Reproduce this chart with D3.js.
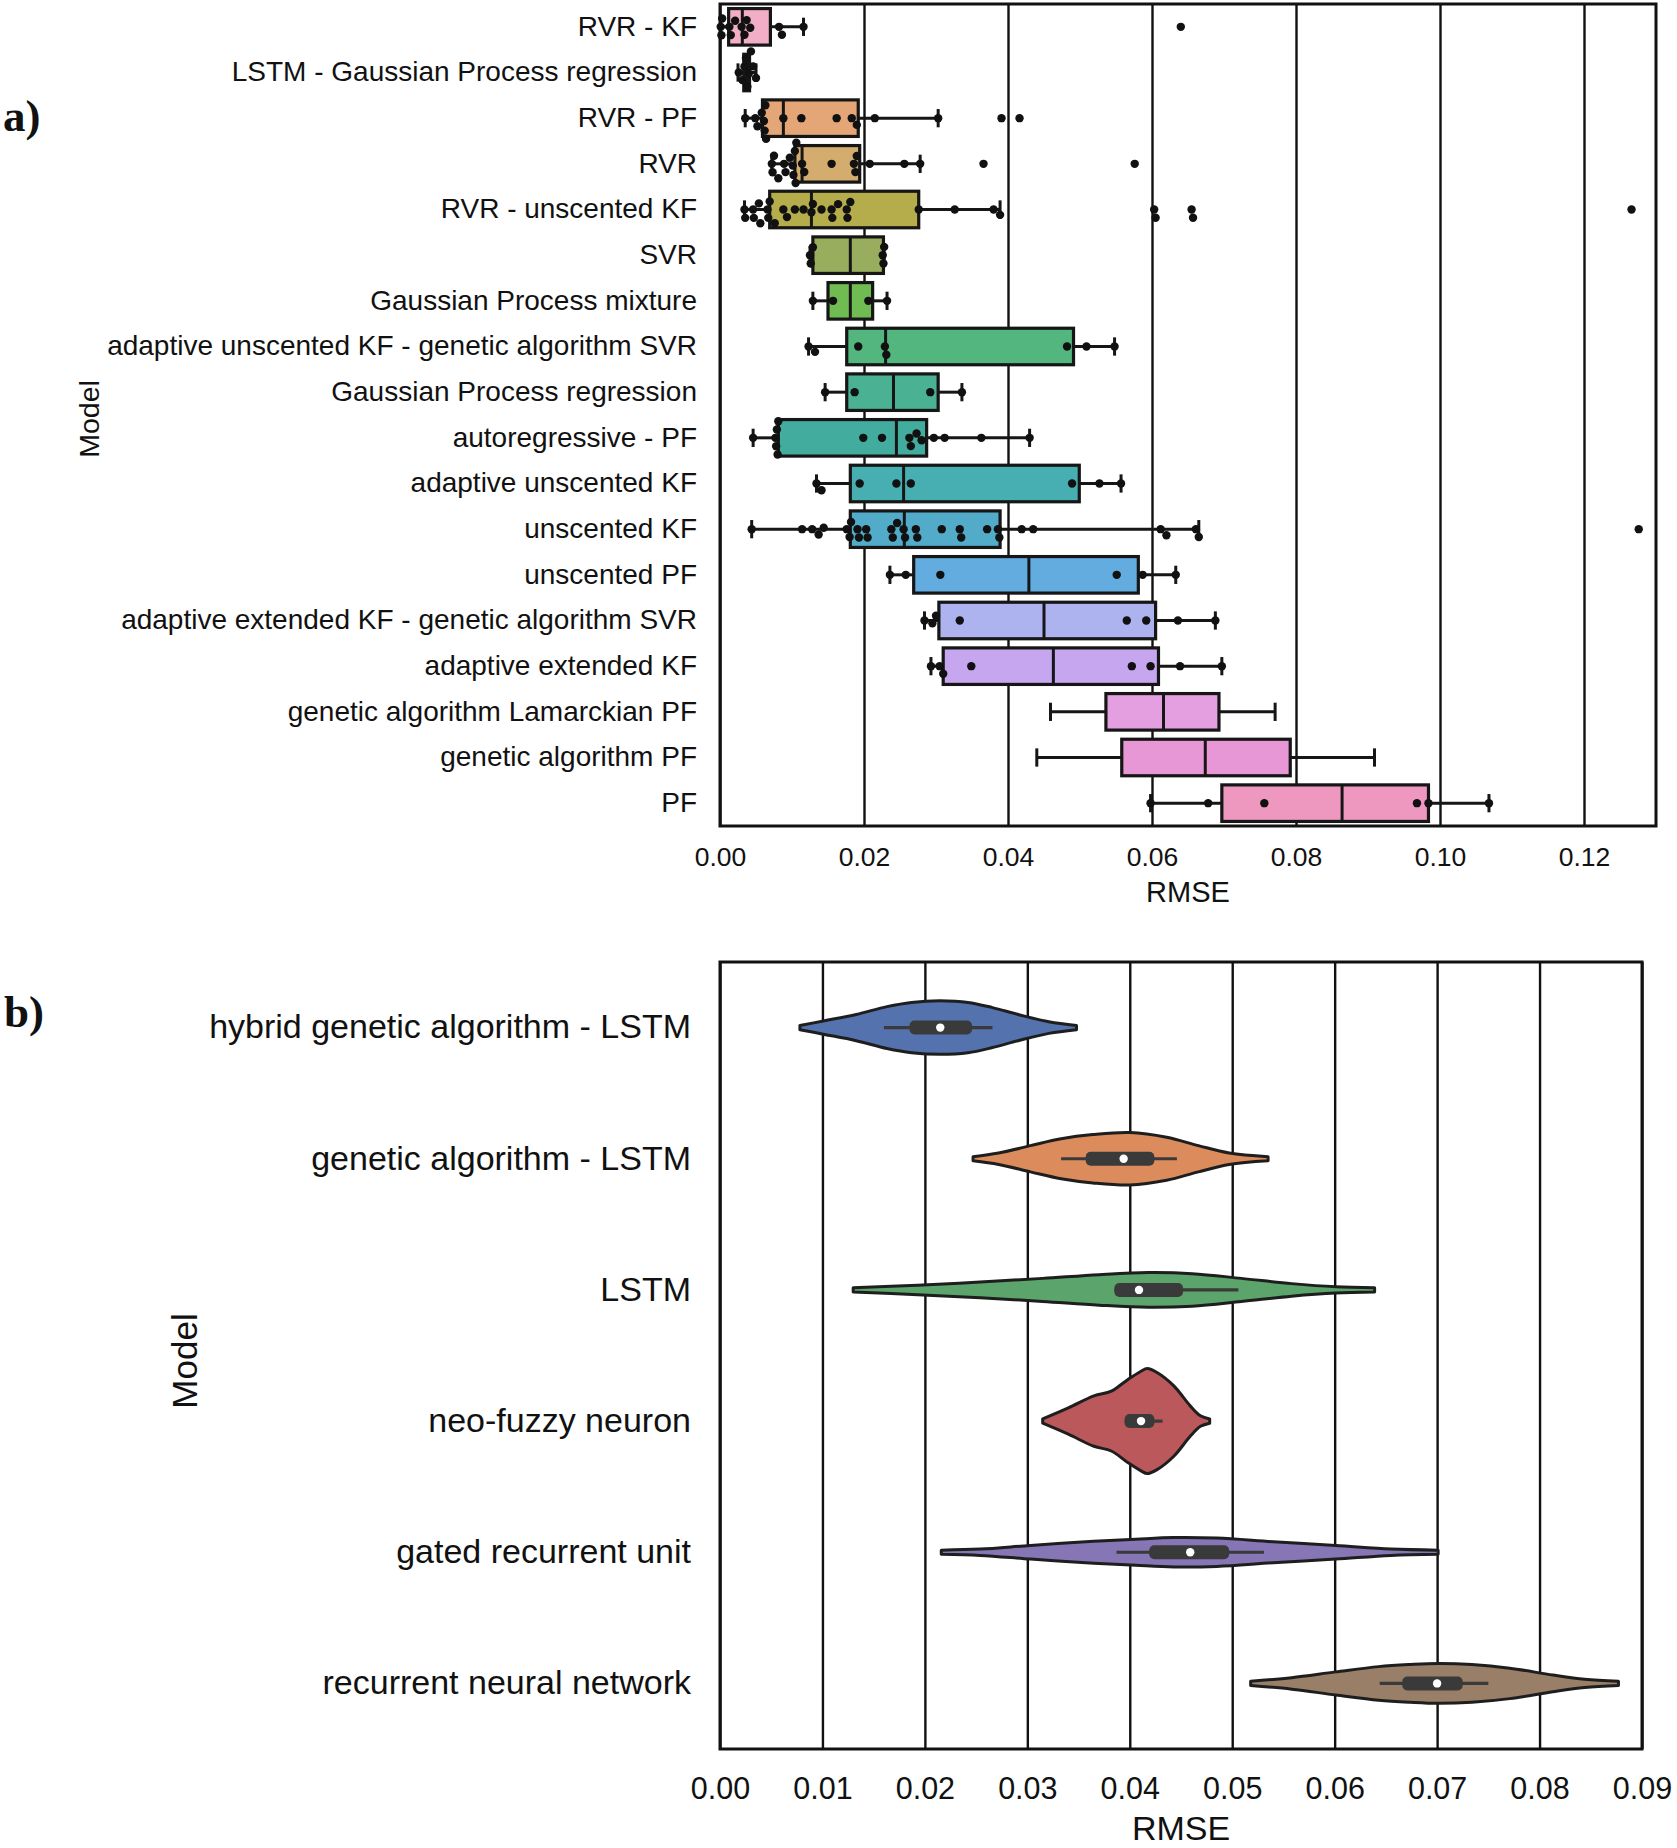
<!DOCTYPE html>
<html lang="en">
<head>
  <meta charset="UTF-8">
  <title>RMSE by model</title>
  <script src="https://d3js.org/d3.v7.min.js"></script>
  <style>
    body { margin: 0; background: #fff; }
    svg text { font-family: "Liberation Sans", Arial, sans-serif; fill: #111; }
    .panel-tag { font-family: "Liberation Serif", "Times New Roman", serif !important; font-weight: bold; }
  </style>
</head>
<body>
  <svg id="chart" width="1677" height="1848"></svg>

  <script>
    // ---- panel a: box + swarm ----
    const modelsA = [
      "RVR - KF", "LSTM - Gaussian Process regression", "RVR - PF", "RVR",
      "RVR - unscented KF", "SVR", "Gaussian Process mixture",
      "adaptive unscented KF - genetic algorithm SVR", "Gaussian Process regression",
      "autoregressive - PF", "adaptive unscented KF", "unscented KF", "unscented PF",
      "adaptive extended KF - genetic algorithm SVR", "adaptive extended KF",
      "genetic algorithm Lamarckian PF", "genetic algorithm PF", "PF"
    ];
    const whiskLoA = [0.0001, 0.0025, 0.0035, 0.0072, 0.0034, 0.0125, 0.0129, 0.0123, 0.0146, 0.0046, 0.0134, 0.0044, 0.0236, 0.0284, 0.0293, 0.0459, 0.0440, 0.0598];
    const q1A      = [0.0012, 0.0033, 0.0059, 0.0104, 0.0069, 0.0129, 0.0150, 0.0176, 0.0176, 0.0081, 0.0181, 0.0181, 0.0269, 0.0304, 0.0310, 0.0536, 0.0558, 0.0697];
    const medianA  = [0.0031, 0.0037, 0.0088, 0.0114, 0.0127, 0.0181, 0.0181, 0.0230, 0.0241, 0.0245, 0.0255, 0.0256, 0.0429, 0.0450, 0.0463, 0.0616, 0.0674, 0.0864];
    const q3A      = [0.0070, 0.0041, 0.0192, 0.0194, 0.0276, 0.0227, 0.0212, 0.0491, 0.0303, 0.0287, 0.0499, 0.0389, 0.0581, 0.0605, 0.0609, 0.0693, 0.0792, 0.0984];
    const whiskHiA = [0.0116, 0.0050, 0.0303, 0.0278, 0.0389, 0.0228, 0.0232, 0.0548, 0.0336, 0.0430, 0.0557, 0.0665, 0.0633, 0.0688, 0.0697, 0.0771, 0.0909, 0.1068];
    const pointsA = [
      [0.0001, 0.0002, 0.0003, 0.0013, 0.0015, 0.0021, 0.0030, 0.0034, 0.0037, 0.0042, 0.0082, 0.0086, 0.0116, 0.0640],
      [0.0026, 0.0031, 0.0034, 0.0036, 0.0038, 0.0040, 0.0043, 0.0046, 0.0050],
      [0.0035, 0.0049, 0.0052, 0.0058, 0.0061, 0.0062, 0.0063, 0.0064, 0.0088, 0.0113, 0.0162, 0.0183, 0.0190, 0.0215, 0.0303, 0.0391, 0.0416],
      [0.0072, 0.0073, 0.0075, 0.0081, 0.0089, 0.0091, 0.0097, 0.0101, 0.0102, 0.0104, 0.0105, 0.0106, 0.0114, 0.0117, 0.0155, 0.0186, 0.0188, 0.0190, 0.0208, 0.0256, 0.0278, 0.0366, 0.0576],
      [0.0034, 0.0035, 0.0046, 0.0047, 0.0054, 0.0056, 0.0066, 0.0067, 0.0069, 0.0076, 0.0088, 0.0093, 0.0104, 0.0116, 0.0127, 0.0129, 0.0141, 0.0155, 0.0156, 0.0164, 0.0176, 0.0177, 0.0181, 0.0276, 0.0326, 0.0380, 0.0389, 0.0603, 0.0605, 0.0655, 0.0657, 0.1266],
      [0.0125, 0.0126, 0.0129, 0.0226, 0.0227, 0.0228],
      [0.0129, 0.0157, 0.0206, 0.0232],
      [0.0123, 0.0132, 0.0192, 0.0229, 0.0231, 0.0482, 0.0509, 0.0548],
      [0.0146, 0.0187, 0.0292, 0.0336],
      [0.0046, 0.0077, 0.0078, 0.0079, 0.0080, 0.0081, 0.0199, 0.0225, 0.0263, 0.0265, 0.0273, 0.0280, 0.0297, 0.0312, 0.0363, 0.0430],
      [0.0134, 0.0141, 0.0194, 0.0245, 0.0265, 0.0489, 0.0527, 0.0557],
      [0.0044, 0.0114, 0.0128, 0.0137, 0.0144, 0.0176, 0.0180, 0.0182, 0.0191, 0.0193, 0.0203, 0.0205, 0.0238, 0.0240, 0.0246, 0.0255, 0.0257, 0.0272, 0.0274, 0.0308, 0.0333, 0.0335, 0.0371, 0.0386, 0.0388, 0.0419, 0.0435, 0.0612, 0.0620, 0.0661, 0.0665, 0.1276],
      [0.0236, 0.0258, 0.0306, 0.0551, 0.0587, 0.0633],
      [0.0284, 0.0295, 0.0300, 0.0333, 0.0565, 0.0592, 0.0636, 0.0688],
      [0.0293, 0.0305, 0.0310, 0.0349, 0.0572, 0.0598, 0.0639, 0.0697],
      [],
      [],
      [0.0598, 0.0678, 0.0756, 0.0968, 0.0984, 0.1068]
    ];
    const colorsA = [
      "#f2aec6", "#e9ab8a", "#e4a676", "#d4ad6e", "#b5ad4c", "#98ae5e", "#70bb52",
      "#52b67e", "#4ab192", "#42ad9f", "#47aeb2", "#52abc8", "#62acdf", "#adb3ef",
      "#c6a6ef", "#e39fe0", "#e797d6", "#ee98c0"
    ];
    const ticksA = [0, 0.02, 0.04, 0.06, 0.08, 0.10, 0.12];

    // ---- panel b: violins ----
    const modelsB = [
      "hybrid genetic algorithm - LSTM", "genetic algorithm - LSTM", "LSTM",
      "neo-fuzzy neuron", "gated recurrent unit", "recurrent neural network"
    ];
    const colorsB = ["#5372ae", "#dc8c5c", "#5ba46c", "#bb585b", "#8676b6", "#9a7f68"];
    // violin outline: RMSE positions and relative density (1 = full width)
    const violinX = [
      [0.0078, 0.0102, 0.0133, 0.0163, 0.0187, 0.0215, 0.0242, 0.0266, 0.0291, 0.0321, 0.0348],
      [0.0247, 0.0272, 0.0303, 0.0333, 0.0364, 0.0400, 0.0436, 0.0467, 0.0497, 0.0535],
      [0.0130, 0.0193, 0.0254, 0.0315, 0.0370, 0.0418, 0.0461, 0.0509, 0.0558, 0.0601, 0.0639],
      [0.0315, 0.0340, 0.0365, 0.0382, 0.0398, 0.0411, 0.0417, 0.0427, 0.0443, 0.0459, 0.0469, 0.0478],
      [0.0216, 0.0254, 0.0303, 0.0357, 0.0406, 0.0443, 0.0485, 0.0540, 0.0601, 0.0655, 0.0701],
      [0.0518, 0.0558, 0.0601, 0.0643, 0.0674, 0.0701, 0.0734, 0.0771, 0.0813, 0.0844, 0.0877]
    ];
    const violinDensity = [
      [0.04, 0.13, 0.25, 0.40, 0.48, 0.51, 0.48, 0.38, 0.25, 0.11, 0.04],
      [0.04, 0.11, 0.25, 0.38, 0.46, 0.50, 0.41, 0.25, 0.11, 0.04],
      [0.04, 0.09, 0.15, 0.22, 0.29, 0.33, 0.31, 0.22, 0.12, 0.06, 0.04],
      [0.04, 0.25, 0.48, 0.57, 0.79, 0.95, 1.00, 0.92, 0.67, 0.29, 0.10, 0.04],
      [0.04, 0.06, 0.13, 0.20, 0.25, 0.28, 0.27, 0.20, 0.13, 0.06, 0.04],
      [0.04, 0.11, 0.22, 0.32, 0.36, 0.38, 0.36, 0.29, 0.16, 0.08, 0.04]
    ];
    const whiskLoB = [0.0160, 0.0333, 0.0385, 0.0395, 0.0387, 0.0644];
    const q1B      = [0.0185, 0.0357, 0.0385, 0.0395, 0.0419, 0.0666];
    const medianB  = [0.0215, 0.0394, 0.0409, 0.0411, 0.0459, 0.0700];
    const q3B      = [0.0246, 0.0424, 0.0452, 0.0424, 0.0497, 0.0725];
    const whiskHiB = [0.0266, 0.0446, 0.0506, 0.0432, 0.0531, 0.0750];
    const ticksB = [0, 0.01, 0.02, 0.03, 0.04, 0.05, 0.06, 0.07, 0.08, 0.09];

    const svg = d3.select("#chart");
    const edge = "#161616";

    // =================== panel a ===================
    const a = { left: 720, right: 1656, top: 4, bottom: 826 };
    const xA = d3.scaleLinear().domain([0, 0.13]).range([a.left, a.right]);
    const yA = d3.scaleBand().domain(modelsA).range([a.top, a.bottom]);
    const gA = svg.append("g");

    gA.append("g")
      .attr("transform", `translate(0,${a.bottom})`)
      .call(d3.axisBottom(xA).tickValues(ticksA).tickFormat(d3.format(".2f"))
        .tickSize(-(a.bottom - a.top)).tickPadding(21))
      .call(g => g.select(".domain").remove())
      .call(g => g.selectAll("line").attr("stroke", "#111").attr("stroke-width", 2.4))
      .call(g => g.selectAll("text").attr("font-size", 26.5).attr("fill", "#111"));

    gA.append("g")
      .attr("transform", `translate(${a.left},0)`)
      .call(d3.axisLeft(yA).tickSize(0).tickPadding(23))
      .call(g => g.select(".domain").remove())
      .call(g => g.selectAll("text").attr("font-size", 28).attr("fill", "#111"));

    const bwA = yA.bandwidth() * 0.8;
    modelsA.forEach((m, i) => {
      const cy = yA(m) + yA.bandwidth() / 2;
      const row = gA.append("g");
      // whiskers and caps
      [[whiskLoA[i], q1A[i]], [q3A[i], whiskHiA[i]]].forEach(([u, v]) => {
        row.append("line").attr("x1", xA(u)).attr("x2", xA(v)).attr("y1", cy).attr("y2", cy)
          .attr("stroke", edge).attr("stroke-width", 3);
      });
      [whiskLoA[i], whiskHiA[i]].forEach(v => {
        row.append("line").attr("x1", xA(v)).attr("x2", xA(v))
          .attr("y1", cy - bwA / 4).attr("y2", cy + bwA / 4)
          .attr("stroke", edge).attr("stroke-width", 3);
      });
      row.append("rect")
        .attr("x", xA(q1A[i])).attr("width", xA(q3A[i]) - xA(q1A[i]))
        .attr("y", cy - bwA / 2).attr("height", bwA)
        .attr("fill", colorsA[i]).attr("stroke", edge).attr("stroke-width", 3.2);
      row.append("line").attr("x1", xA(medianA[i])).attr("x2", xA(medianA[i]))
        .attr("y1", cy - bwA / 2).attr("y2", cy + bwA / 2)
        .attr("stroke", edge).attr("stroke-width", 3);

      // swarm
      const r = 4.2;
      const placed = [];
      pointsA[i].slice().sort(d3.ascending).forEach(v => {
        const px = xA(v);
        const cands = [0];
        placed.forEach(p => {
          const dx = Math.abs(p.x - px);
          if (dx < 2 * r) {
            const dy = Math.sqrt(4 * r * r - dx * dx);
            cands.push(p.y + dy, p.y - dy);
          }
        });
        const ok = cands.filter(c => placed.every(p => Math.hypot(p.x - px, p.y - c) >= 2 * r - 0.01));
        ok.sort((s, t) => Math.abs(s) - Math.abs(t));
        placed.push({ x: px, y: ok[0] });
      });
      row.selectAll("circle").data(placed).enter().append("circle")
        .attr("cx", d => d.x).attr("cy", d => cy + d.y).attr("r", r)
        .attr("fill", "#111");
    });

    gA.append("rect").attr("x", a.left).attr("y", a.top)
      .attr("width", a.right - a.left).attr("height", a.bottom - a.top)
      .attr("fill", "none").attr("stroke", "#111").attr("stroke-width", 3);

    gA.append("text").attr("x", (a.left + a.right) / 2).attr("y", 902)
      .attr("text-anchor", "middle").attr("font-size", 29).text("RMSE");
    gA.append("text").attr("transform", `translate(99,${(a.top + a.bottom) / 2 + 4}) rotate(-90)`)
      .attr("text-anchor", "middle").attr("font-size", 28.5).text("Model");
    gA.append("text").attr("class", "panel-tag").attr("x", 3).attr("y", 131)
      .attr("font-size", 45).text("a)");

    // =================== panel b ===================
    const b = { left: 720, right: 1642, top: 962, bottom: 1749 };
    const xB = d3.scaleLinear().domain([0, 0.09]).range([b.left, b.right]);
    const yB = d3.scaleBand().domain(modelsB).range([b.top, b.bottom]);
    const gB = svg.append("g");

    gB.append("g")
      .attr("transform", `translate(0,${b.bottom})`)
      .call(d3.axisBottom(xB).tickValues(ticksB).tickFormat(d3.format(".2f"))
        .tickSize(-(b.bottom - b.top)).tickPadding(28))
      .call(g => g.select(".domain").remove())
      .call(g => g.selectAll("line").attr("stroke", "#111").attr("stroke-width", 2.4))
      .call(g => g.selectAll("text").attr("font-size", 30.5).attr("fill", "#111"));

    gB.append("g")
      .attr("transform", `translate(${b.left},0)`)
      .call(d3.axisLeft(yB).tickSize(0).tickPadding(29))
      .call(g => g.select(".domain").remove())
      .call(g => g.selectAll("text").attr("font-size", 34).attr("fill", "#111"));

    const maxHW = yB.bandwidth() * 0.4;
    modelsB.forEach((m, i) => {
      const cy = yB(m) + yB.bandwidth() / 2;
      const pts = violinX[i].map((v, k) => [v, violinDensity[i][k]]);
      const area = d3.area()
        .x(d => xB(d[0]))
        .y0(d => cy - d[1] * maxHW)
        .y1(d => cy + d[1] * maxHW)
        .curve(d3.curveCatmullRom);
      gB.append("path").attr("d", area(pts))
        .attr("fill", colorsB[i]).attr("stroke", "#1e1e1e").attr("stroke-width", 3)
        .attr("stroke-linejoin", "round");
      // inner box
      gB.append("line").attr("x1", xB(whiskLoB[i])).attr("x2", xB(whiskHiB[i]))
        .attr("y1", cy).attr("y2", cy).attr("stroke", "#3a3a3a").attr("stroke-width", 3.2);
      gB.append("rect").attr("x", xB(q1B[i])).attr("width", xB(q3B[i]) - xB(q1B[i]))
        .attr("y", cy - 7).attr("height", 14).attr("rx", 5)
        .attr("fill", "#3a3a3a");
      gB.append("circle").attr("cx", xB(medianB[i])).attr("cy", cy).attr("r", 4.2)
        .attr("fill", "#fff");
    });

    gB.append("rect").attr("x", b.left).attr("y", b.top)
      .attr("width", b.right - b.left).attr("height", b.bottom - b.top)
      .attr("fill", "none").attr("stroke", "#111").attr("stroke-width", 3);

    gB.append("text").attr("x", (b.left + b.right) / 2).attr("y", 1840)
      .attr("text-anchor", "middle").attr("font-size", 34).text("RMSE");
    gB.append("text").attr("transform", `translate(197,1361) rotate(-90)`)
      .attr("text-anchor", "middle").attr("font-size", 35).text("Model");
    gB.append("text").attr("class", "panel-tag").attr("x", 4).attr("y", 1027)
      .attr("font-size", 45).text("b)");
  </script>
</body>
</html>
